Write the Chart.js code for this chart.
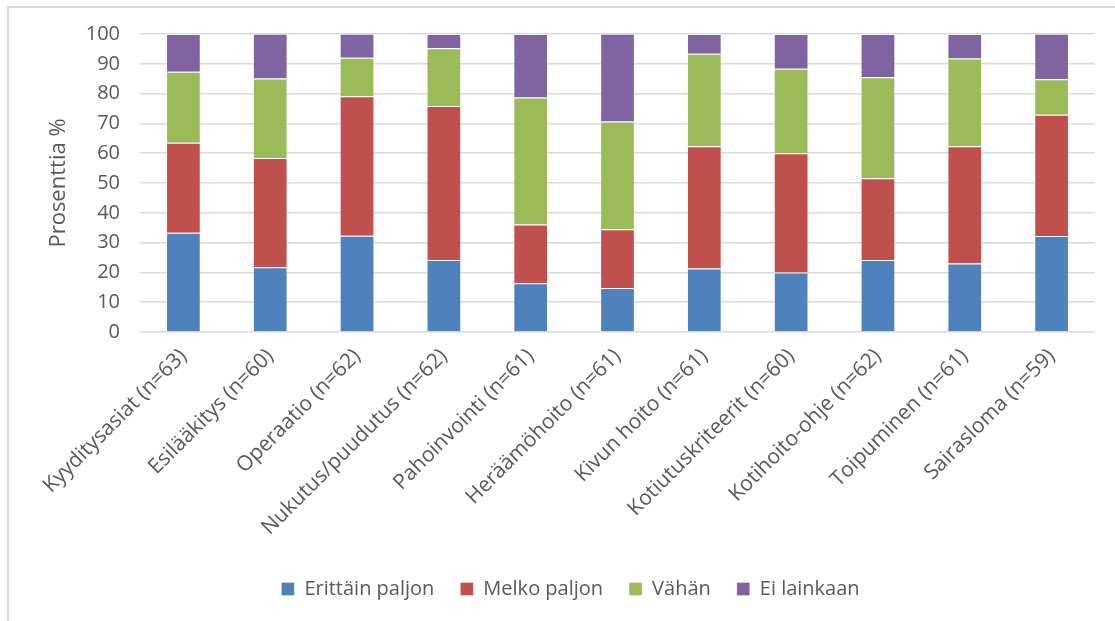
<!DOCTYPE html>
<html>
<head>
<meta charset="utf-8">
<script src="https://cdn.jsdelivr.net/npm/chart.js@4.4.1/dist/chart.umd.min.js"></script>
<style>
  html, body { margin: 0; padding: 0; background: #fff; }
  #frame {
    position: absolute; left: 7px; top: 6px; right: 0; bottom: 0;
    border-left: 2px solid #d9d9d9; border-top: 2px solid #d9d9d9;
  }
  #wrap { position: absolute; left: 0; top: 0; width: 1115px; height: 621px; }
</style>
</head>
<body>
<div id="frame"></div>
<div id="wrap"><canvas id="chart" width="1115" height="621"></canvas></div>
<script>
const categories = [
  'Kyyditysasiat (n=63)', 'Esilääkitys (n=60)', 'Operaatio (n=62)',
  'Nukutus/puudutus (n=62)', 'Pahoinvointi (n=61)', 'Heräämöhoito (n=61)',
  'Kivun hoito (n=61)', 'Kotiutuskriteerit (n=60)', 'Kotihoito-ohje (n=62)',
  'Toipuminen (n=61)', 'Sairasloma (n=59)'
];
const erittainPaljon = [33.3, 21.7, 32.3, 24.2, 16.4, 14.8, 21.3, 20.0, 24.2, 23.0, 32.2];
const melkoPaljon    = [30.2, 36.7, 46.8, 51.6, 19.7, 19.7, 41.0, 40.0, 27.4, 39.3, 40.7];
const vahan          = [23.8, 26.7, 12.9, 19.4, 42.6, 36.1, 31.1, 28.3, 33.9, 29.5, 11.9];
const eiLainkaan     = [12.7, 15.0,  8.1,  4.8, 21.3, 29.5,  6.6, 11.7, 14.5,  8.2, 15.3];
const yTicks = [0, 10, 20, 30, 40, 50, 60, 70, 80, 90, 100];

const font = "'Open Sans', 'Noto Sans', sans-serif";
const textColor = '#595959';

const series = [
  { label: 'Erittäin paljon', data: erittainPaljon, color: '#4f81bd' },
  { label: 'Melko paljon',    data: melkoPaljon,    color: '#c0504d' },
  { label: 'Vähän',           data: vahan,          color: '#9bbb59' },
  { label: 'Ei lainkaan',     data: eiLainkaan,     color: '#8064a2' }
];

new Chart(document.getElementById('chart'), {
  type: 'bar',
  data: {
    labels: categories,
    datasets: series.map(s => ({
      label: s.label,
      data: s.data,
      backgroundColor: s.color,
      borderColor: 'rgba(255,255,255,0.35)',
      borderWidth: 1,
      categoryPercentage: 0.4,
      barPercentage: 1
    }))
  },
  options: {
    responsive: false,
    animation: false,
    layout: { padding: { left: 46, right: 20, top: 34, bottom: 12 } },
    plugins: {
      tooltip: { enabled: false },
      legend: {
        position: 'bottom',
        labels: {
          boxWidth: 13, boxHeight: 13, padding: 26,
          color: textColor,
          font: { family: font, size: 20 }
        }
      }
    },
    scales: {
      x: {
        stacked: true,
        grid: { display: false },
        border: { display: false },
        ticks: {
          color: textColor,
          font: { family: font, size: 21 },
          minRotation: 45, maxRotation: 45,
          padding: 4
        },
        afterFit: scale => { scale.height = 221; }
      },
      y: {
        stacked: true,
        min: 0, max: 100,
        afterBuildTicks: scale => { scale.ticks = yTicks.map(v => ({ value: v })); },
        grid: { color: '#d9d9d9', lineWidth: 1.5, drawTicks: false },
        border: { display: false },
        ticks: {
          color: textColor,
          font: { family: font, size: 20 },
          padding: 20
        },
        title: {
          display: true,
          text: 'Prosenttia %',
          color: textColor,
          font: { family: font, size: 22 },
          padding: 0
        },
        afterFit: scale => { scale.width = 94; }
      }
    }
  }
});
</script>
</body>
</html>
